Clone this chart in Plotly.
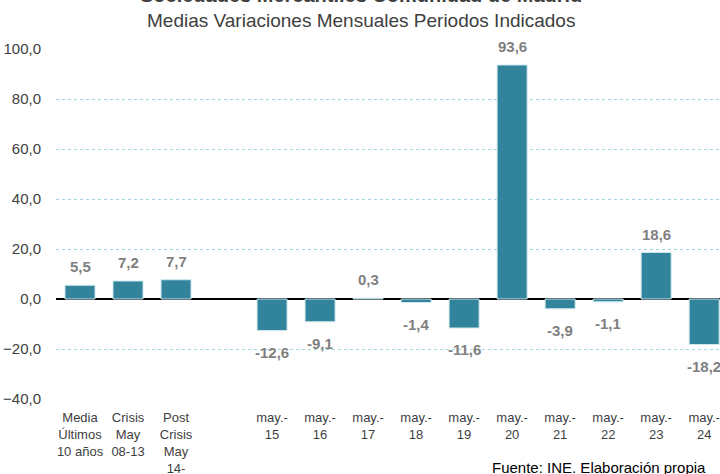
import plotly.graph_objects as go

categories = ["Media<br>Últimos<br>10 años", "Crisis<br>May<br>08-13", "Post<br>Crisis<br>May<br>14-", "",
              "may.-<br>15", "may.-<br>16", "may.-<br>17", "may.-<br>18", "may.-<br>19",
              "may.-<br>20", "may.-<br>21", "may.-<br>22", "may.-<br>23", "may.-<br>24"]
values = [5.5, 7.2, 7.7, None, -12.6, -9.1, 0.3, -1.4, -11.6, 93.6, -3.9, -1.1, 18.6, -18.2]
y_ticks = [-40, -20, 0, 20, 40, 60, 80, 100]

FONT = "Liberation Sans Narrow, Arial Narrow, Liberation Sans, Arial, sans-serif"
BAR = "#31849b"

xs = list(range(len(categories)))
fig = go.Figure()
fig.add_trace(go.Bar(
    x=xs, y=values, marker=dict(color=BAR, line=dict(color="#cfe7ee", width=1)),
    width=0.625, hoverinfo="skip",
))

for x, v in zip(xs, values):
    if v is None:
        continue
    txt = f"{v:.1f}".replace(".", ",")
    fig.add_annotation(
        x=x, y=v, text=f"<b>{txt}</b>", showarrow=False,
        yanchor="bottom" if v >= 0 else "top",
        yshift=8 if v >= 0 else -11,
        font=dict(family=FONT, size=15, color="#7f7f7f"),
    )

H = 350.0
TOP = 49
def py(p):
    return 1 + (TOP - p) / H

fig.add_annotation(xref="paper", yref="paper", x=0.46, y=py(-5), text="<b>Sociedades Mercantiles Comunidad de Madrid</b>",
                   showarrow=False, font=dict(family=FONT, size=20, color="#404040"), yanchor="middle")
fig.add_annotation(xref="paper", yref="paper", x=0.46, y=py(20), text="Medias Variaciones Mensuales Periodos Indicados",
                   showarrow=False, font=dict(family=FONT, size=19, color="#404040"), yanchor="middle")
fig.add_annotation(xref="paper", yref="paper", x=(490 - 56) / 664.0, y=py(467), xanchor="left",
                   text="Fuente: INE. Elaboración propia", showarrow=False,
                   font=dict(family=FONT, size=15, color="#000000"), yanchor="middle")

fig.update_layout(
    width=720, height=474,
    margin=dict(l=56, r=0, t=TOP, b=75, autoexpand=False),
    paper_bgcolor="white", plot_bgcolor="white",
    separators=",.",
    showlegend=False,
    font=dict(family=FONT, size=14, color="#404040"),
    xaxis=dict(range=[-0.5, 13.33], tickmode="array", tickvals=xs, ticktext=categories,
               showgrid=False, zeroline=False, showline=False, ticks="", automargin=False,
               ticklabelstandoff=9,
               tickfont=dict(family=FONT, size=13, color="#404040"), tickangle=0),
    yaxis=dict(range=[-40, 100], tickvals=y_ticks, tickformat=".1f", automargin=False,
               showgrid=True, gridcolor="#9fd6e3", griddash="dot", gridwidth=1,
               zeroline=True, zerolinecolor="#000000", zerolinewidth=2,
               showline=False, ticks="", ticklabelstandoff=14,
               tickfont=dict(family=FONT, size=15, color="#404040")),
)

fig.write_html("out.html", config={"displayModeBar": False, "staticPlot": True},
               post_script="document.body.style.margin='0';document.body.style.overflow='hidden';")
